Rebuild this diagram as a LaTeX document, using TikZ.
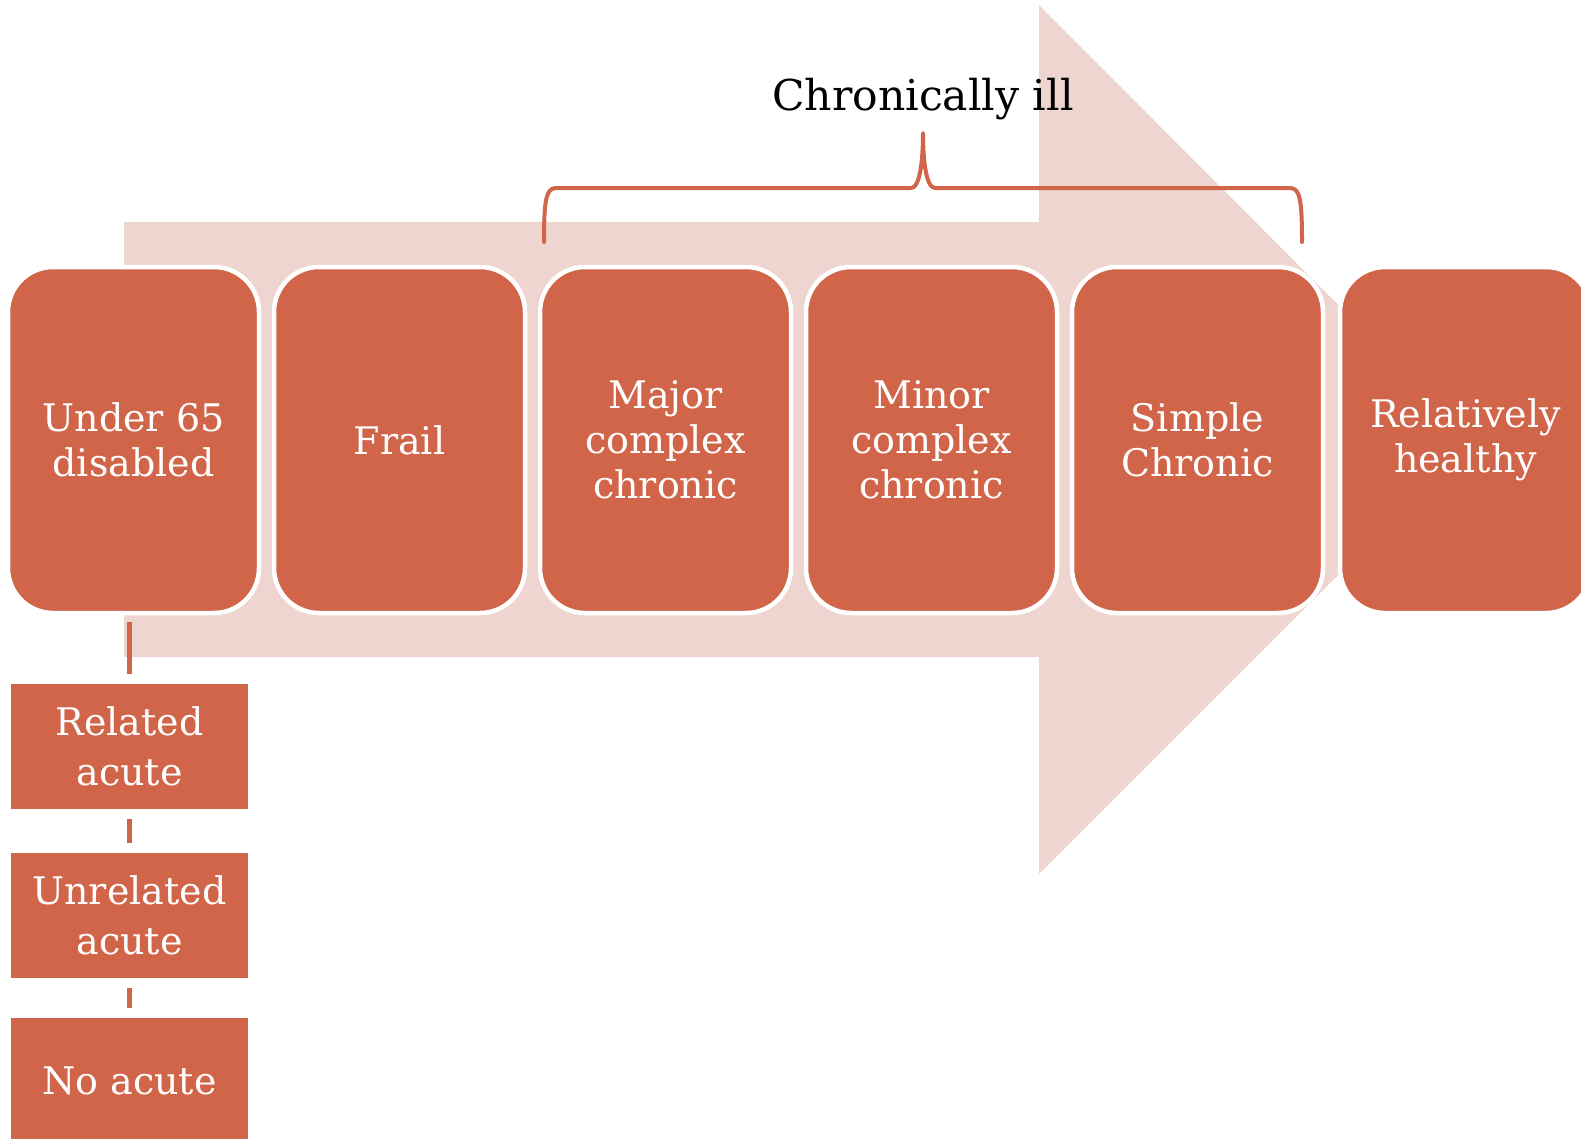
\documentclass[tikz,border=0pt]{standalone}
\usepackage{fontspec}
\setmainfont{DejaVu Serif}
\usetikzlibrary{positioning}
\definecolor{Brick}{HTML}{D16549}
\definecolor{Blush}{HTML}{EFD5D0}
\begin{document}
\begin{tikzpicture}[x=1pt,y=-1pt,
    b/.style={draw=white,line width=4.5pt,fill=Brick,rounded corners=45pt,minimum width=251pt,minimum height=346pt,outer sep=0pt,align=center,text=white,font=\fontsize{38}{45}\selectfont},
    s/.style={draw=white,line width=1.5pt,fill=Brick,minimum width=239pt,minimum height=127pt,outer sep=0pt,align=center,text=white,font=\fontsize{38}{50}\selectfont},
    l/.style={draw=Brick,line width=5pt,shorten <=9pt,shorten >=9pt},
    br/.style={draw=Brick,line width=4pt,line cap=round,line join=round}]
    \clip (0,0) rectangle (1581,1138);
    \useasboundingbox (0,0) rectangle (1581,1138);
    % big arrow behind the boxes
    \fill[Blush] (124,222) -- (1039,222) -- (1039,5) -- (1473,440) -- (1039,874) -- (1039,657) -- (124,657) -- cycle;
    \node[b] (u) at (133.5,440) {Under 65\\disabled};
    \node[b,right=15pt of u] (f) {Frail};
    \node[b,right=15pt of f] (maj) {Major\\complex\\chronic};
    \node[b,right=15pt of maj] (min) {Minor\\complex\\chronic};
    \node[b,right=15pt of min] (sc) {Simple\\Chronic};
    \node[b,right=17pt of sc] (rh) {Relatively\\healthy};
    \node[s] (ra) at (129.5,746.5) {Related\\acute};
    \node[s,below=42pt of ra] (ua) {Unrelated\\acute};
    \node[s,below=38pt of ua] (na) {No acute};
    \draw[l] (ra.north) -- (ra.north |- u.south);
    \draw[l] (ra) -- (ua);
    \draw[l] (ua) -- (na);
    \node[font=\fontsize{42.5}{48}\selectfont] (ci) at (923,99) {Chronically ill};
    \draw[br] (544,242) .. controls (544,200) and (546,188) .. (556,188) -- (911,188) .. controls (920,188) and (923,160) .. (923,133)
      .. controls (923,160) and (926,188) .. (935,188) -- (1290,188) .. controls (1300,188) and (1302,200) .. (1302,242);
\end{tikzpicture}
\end{document}
